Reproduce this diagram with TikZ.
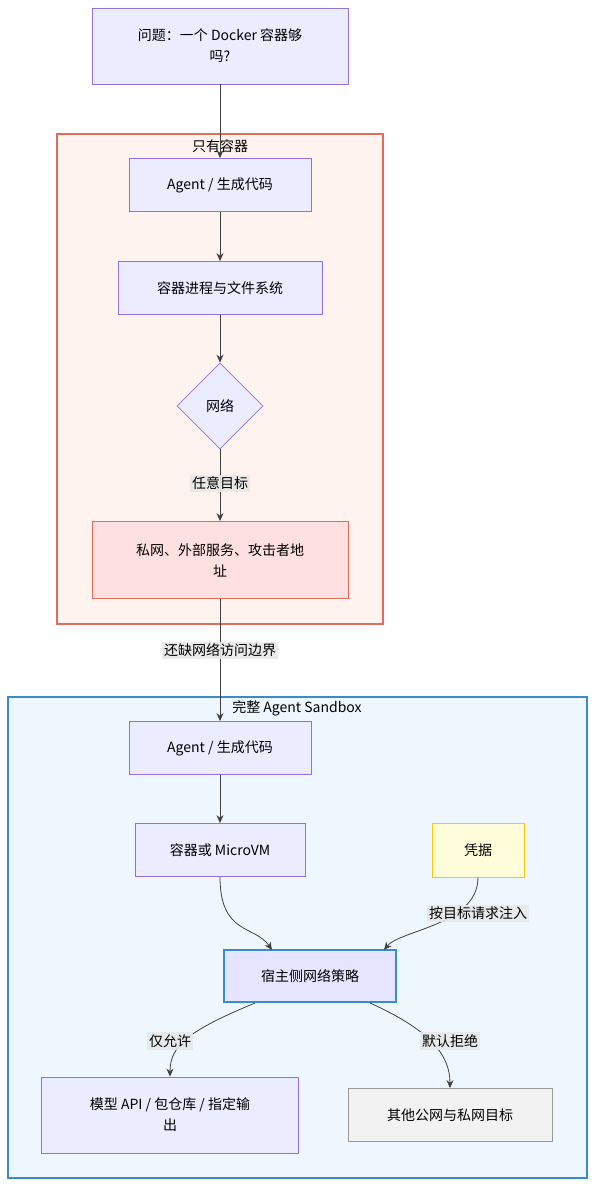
\documentclass[tikz,border=0pt]{standalone}
\usepackage{fontspec}
\setmainfont{Noto Sans CJK SC}
\usetikzlibrary{shapes.geometric,arrows.meta}
\definecolor{nodefill}{HTML}{ECECFF}
\definecolor{nodeline}{HTML}{9370DB}
\definecolor{redfill}{HTML}{FFF3F0}
\definecolor{redline}{HTML}{E26B5A}
\definecolor{bluefill}{HTML}{EEF7FD}
\definecolor{blueline}{HTML}{3A8BCB}
\definecolor{labelfill}{HTML}{E8E8E8}
\tikzset{
  box/.style={rectangle,draw=nodeline,fill=nodefill,line width=0.8pt,align=center,font=\fontsize{14}{21}\selectfont},
  lbl/.style={fill=labelfill,fill opacity=0.9,text opacity=1,inner sep=2pt,font=\fontsize{14}{17}\selectfont},
  arr/.style={-{Stealth[length=8pt,width=7pt]},line width=0.8pt,draw=black!75}
}
\begin{document}
\begin{tikzpicture}[x=1pt,y=-1pt]

	\useasboundingbox (0,0) rectangle (603,1203);

	% clusters
	\draw[fill=redfill,draw=redline,line width=1.2pt] (57,134) rectangle (383,624);
	\node[font=\fontsize{14}{17}\selectfont] (only) at (220,146) {只有容器};
	\draw[fill=bluefill,draw=blueline,line width=1.2pt] (8,697) rectangle (587,1178);
	\node[font=\fontsize{14}{17}\selectfont] (full) at (297,708) {完整 Agent Sandbox};

	% nodes
	\node[box,minimum width=256,minimum height=76] (q) at (220,46) {问题：一个 Docker 容器够\\吗?};
	\node[box,minimum width=182,minimum height=53] (a1) at (220,185) {Agent / 生成代码};
	\node[box,minimum width=204,minimum height=53] (c1) at (220,288) {容器进程与文件系统};
	\node[box,diamond,minimum width=86,minimum height=86,inner sep=0pt] (net) at (220,406) {网络};
	\node[box,fill=red!12,draw=redline,minimum width=256,minimum height=77] (t1) at (220,560) {私网、外部服务、攻击者地\\址};
	\node[box,minimum width=182,minimum height=53] (a2) at (220,748) {Agent / 生成代码};
	\node[box,minimum width=170,minimum height=53] (c2) at (220,850) {容器或 MicroVM};
	\node[box,fill=yellow!15,draw=yellow!60!orange,minimum width=92,minimum height=54] (cred) at (478,850) {凭据};
	\node[box,fill=blue!10,draw=blueline,line width=2.2pt,minimum width=172,minimum height=52] (pol) at (310,976) {宿主侧网络策略};
	\node[box,minimum width=257,minimum height=76] (m) at (170,1115) {模型 API / 包仓库 / 指定输\\出};
	\node[box,fill=gray!10,draw=gray!80,minimum width=204,minimum height=53] (o) at (450,1115) {其他公网与私网目标};

	% edges
	\draw[arr] (q) -- (a1);
	\draw[arr] (a1) -- (c1);
	\draw[arr] (c1) -- (net);
	\draw[arr] (net) -- node[lbl,pos=0.47] {任意目标} (t1);
	\draw[arr] (t1) -- node[lbl,pos=0.42] {还缺网络访问边界} (a2);
	\draw[arr] (a2) -- (c2);
	\draw[arr] (c2.south) .. controls (220,935) and (255,925) .. (272,950);
	\draw[arr] (cred.south) .. controls (478,925) and (400,930) .. (384,950);
	\node[lbl] (inj) at (478,913) {按目标请求注入};
	\draw[arr] (255,1003) .. controls (190,1030) and (170,1045) .. (m.north);
	\node[lbl] (allow) at (170,1041) {仅允许};
	\draw[arr] (370,1003) .. controls (430,1030) and (450,1055) .. (o.north);
	\node[lbl] (deny) at (450,1041) {默认拒绝};

\end{tikzpicture}
\end{document}
